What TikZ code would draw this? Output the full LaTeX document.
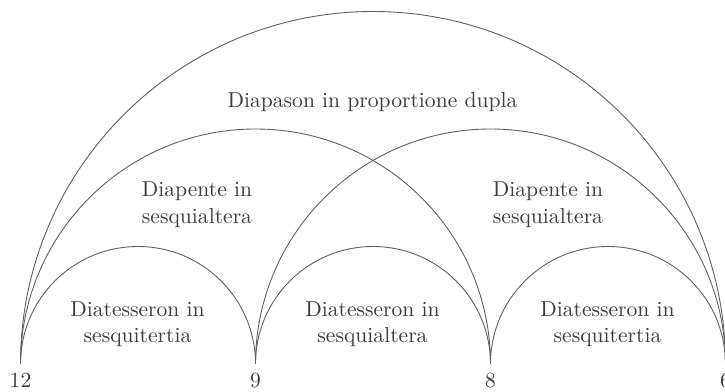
\documentclass[tikz,border=0pt]{standalone}
\usetikzlibrary{positioning}
\definecolor{InkGrey}{RGB}{60,60,60}
\definecolor{ArcGrey}{RGB}{95,95,95}
\tikzset{
  ratio/.style={font=\fontsize{10.8}{13.2}\selectfont,text=InkGrey,
                align=center,anchor=base,inner sep=0pt},
  numlabel/.style={font=\fontsize{10.8}{13}\selectfont,text=InkGrey,inner sep=0pt},
  span/.style={ArcGrey,line width=0.45pt}
}
\begin{document}
\begin{tikzpicture}[x=0.5pt,y=0.5pt]
  \useasboundingbox (0,0) rectangle (725,392);
  %% string lengths
  \coordinate (p12) at (20.5,28);
  \coordinate (p9)  at (255.5,28);
  \coordinate (p8)  at (490.5,28);
  \coordinate (p6)  at (725.5,28);
  \node[numlabel,below=4.5pt] (l12) at (p12) {12};
  \node[numlabel,below=4.5pt] (l9)  at (p9)  {9};
  \node[numlabel,below=4.5pt] (l8)  at (p8)  {8};
  \node[numlabel,below=4.5pt] (l6)  at (p6)  {6};
  %% Diatesseron
  \draw[span] (p12) arc[start angle=180,end angle=0,radius=117.5];
  \draw[span] (p9)  arc[start angle=180,end angle=0,radius=117.5];
  \draw[span] (p8)  arc[start angle=180,end angle=0,radius=117.5];
  %% Diapente
  \draw[span] (p12) arc[start angle=180,end angle=0,radius=235];
  \draw[span] (p9)  arc[start angle=180,end angle=0,radius=235];
  %% Diapason
  \draw[span] (p12) arc[start angle=180,end angle=0,radius=352.5];
  %% labels (base = last line)
  \node[ratio] (dupla) at (372.5,285) {Diapason in proportione dupla};
  \node[ratio] (quintL) at (197,169) {Diapente in\\sesquialtera};
  \node[ratio] (quintR) at (548,169) {Diapente in\\sesquialtera};
  \node[ratio] (quartL) at (137.5,49) {Diatesseron in\\sesquitertia};
  \node[ratio] (quartM) at (372.5,49) {Diatesseron in\\sesquialtera};
  \node[ratio] (quartR) at (607.5,49) {Diatesseron in\\sesquitertia};
\end{tikzpicture}
\end{document}
